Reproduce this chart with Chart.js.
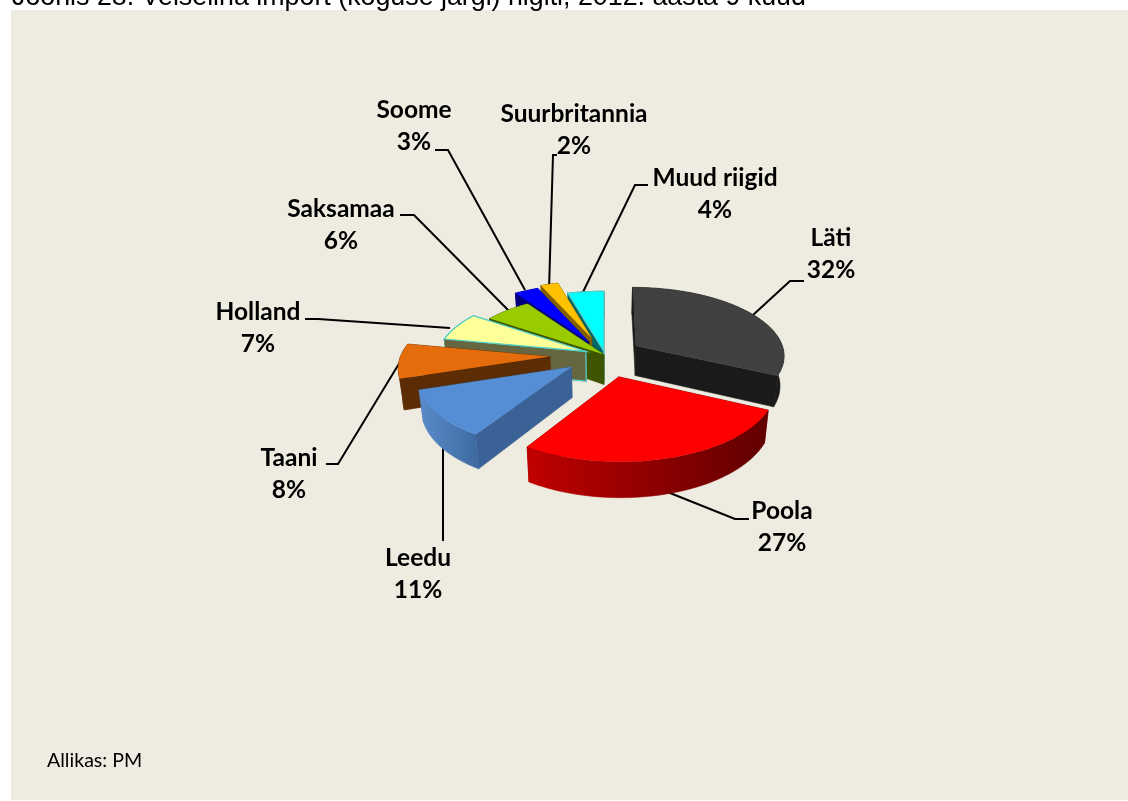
<!DOCTYPE html>
<html><head><meta charset="utf-8">
<script src="https://cdn.jsdelivr.net/npm/chart.js@4"></script>
<style>html,body{margin:0;padding:0;background:#fff}#w{position:absolute;left:0;top:0;width:1128px;height:801px}</style>
</head><body><div id="w"><canvas id="c" width="1128" height="801"></canvas></div>
<script>
const titleText = "Joonis 28. Veiseliha import (koguse järgi) riigiti, 2012. aasta 9 kuud";
const sourceText = "Allikas: PM";
const categories = ["Läti","Poola","Leedu","Taani","Holland","Saksamaa","Soome","Suurbritannia","Muud riigid"];
const shares = [32,27,11,8,6.6,5.8,3,2.2,4.4];
const explodePercent = [25,32,28,37,14,1,23,27,6];
const topColors  = ["#404040","#ff0000","#558ed5","#e46c0a","#ffff99","#99cc00","#0000ff","#ffc000","#00ffff"];
const wallColors = ["#1a1a1a","#7f0000","#3b6296","#5c2c04","#666640","#3f5400","#000080","#806000","#006666"];
const rimLeft    = ["#1a1a1a","#c00000","#5a8ccb","#5c2c04","#666640","#3f5400","#000080","#806000","#006666"];
const rimRight   = ["#1a1a1a","#600000","#3f6ba3","#5c2c04","#666640","#3f5400","#000080","#806000","#006666"];
const outlines   = [null,null,null,null,"#4fd0c8",null,null,null,"#4fd0c8"];
const drawOrder  = [8,7,6,5,4,3,2,0,1];
const labelCentres = [[831,237],[782,510],[418,557],[289,457],[258,311],[341,208],[414,109],[574,113],[715,177]];
const leaderPaths = [
 [[753,315],[790,281],[804,281]],
 [[660,489],[735,519],[749,519]],
 [[443,445],[443,541]],
 [[400,362],[338,464],[326,464]],
 [[450,328],[318,319],[305,319]],
 [[512,314],[414,215],[400,215]],
 [[525,290],[448,150],[435,150]],
 [[549,290],[553,155],[557,155]],
 [[583,292],[635,185],[648,185]]
];
const VIEW = {cx:605, cy:355, sx:149, sy:68.2, persp:0.126, depth:30, nadir:0.023};

function project(u,v,low){
  const d = 1/(1-VIEW.persp*v);
  const x = VIEW.cx+VIEW.sx*u*d, y = VIEW.cy+VIEW.sy*v*d;
  return low ? [x+(VIEW.cx-x)*VIEW.nadir, y+VIEW.depth*d] : [x,y];
}
function poly(ctx,pts){
  ctx.beginPath();
  pts.forEach((p,i)=> i?ctx.lineTo(p[0],p[1]):ctx.moveTo(p[0],p[1]));
  ctx.closePath();
}
function drawSlice(ctx,arc,i){
  const {startAngle,endAngle} = arc.getProps(['startAngle','endAngle'],true);
  const mid=(startAngle+endAngle)/2, off=arc.options.offset/100;
  const ou=Math.cos(mid)*off, ov=Math.sin(mid)*off;
  const rim=[], n=Math.max(6,Math.ceil((endAngle-startAngle)*40));
  for(let k=0;k<=n;k++){const a=startAngle+(endAngle-startAngle)*k/n; rim.push([ou+Math.cos(a),ov+Math.sin(a)]);}
  const top=rim.map(p=>project(p[0],p[1],false)), low=rim.map(p=>project(p[0],p[1],true));
  const t0=project(ou,ov,false), t1=project(ou,ov,true);
  const o=outlines[i];
  // radial walls
  ctx.fillStyle=wallColors[i]; ctx.strokeStyle=wallColors[i]; ctx.lineWidth=0.6;
  poly(ctx,[t0,t1,low[n],top[n]]); ctx.fill(); ctx.stroke();
  poly(ctx,[t0,t1,low[0],top[0]]); ctx.fill(); ctx.stroke();
  if(o){ctx.strokeStyle=o;ctx.lineWidth=1.2;ctx.stroke();}
  // outer rim
  const xs=top.map(p=>p[0]), g=ctx.createLinearGradient(Math.min(...xs),0,Math.max(...xs),0);
  g.addColorStop(0,rimLeft[i]); g.addColorStop(1,rimRight[i]);
  ctx.fillStyle=g; ctx.strokeStyle=g; ctx.lineWidth=0.6;
  poly(ctx,top.concat(low.slice().reverse())); ctx.fill(); ctx.stroke();
  // top face
  ctx.fillStyle=topColors[i];
  poly(ctx,[t0].concat(top)); ctx.fill();
  if(o){ctx.strokeStyle=o;ctx.lineWidth=1.2;ctx.stroke();}
}
const scene = {
  id:'scene',
  beforeDraw(chart){
    const ctx=chart.ctx; ctx.save();
    ctx.fillStyle='#fff'; ctx.fillRect(0,0,1128,801);
    ctx.fillStyle='#eeebe0'; ctx.fillRect(11,10,1117,790);
    ctx.fillStyle='#000'; ctx.font='26.8px "Liberation Sans"'; ctx.textBaseline='alphabetic'; ctx.textAlign='left';
    ctx.fillText(titleText,12,4.5);
    ctx.font='19.6px Lato'; ctx.fillText(sourceText,47,767);
    ctx.restore();
  },
  beforeDatasetsDraw(chart){
    const ctx=chart.ctx, arcs=chart.getDatasetMeta(0).data;
    ctx.save();
    ctx.strokeStyle='#000'; ctx.lineWidth=2; ctx.lineJoin='miter';
    leaderPaths.forEach(p=>{ctx.beginPath();p.forEach((q,i)=>i?ctx.lineTo(q[0],q[1]):ctx.moveTo(q[0],q[1]));ctx.stroke();});
    drawOrder.forEach(i=>drawSlice(ctx,arcs[i],i));
    ctx.fillStyle='#000'; ctx.font='bold 24.5px Lato'; ctx.textAlign='center'; ctx.textBaseline='middle';
    categories.forEach((c,i)=>{
      const [x,y]=labelCentres[i];
      ctx.fillText(c,x,y+1); ctx.fillText(Math.round(shares[i])+'%',x,y+33);
    });
    ctx.restore();
    return false;
  }
};
new Chart(document.getElementById('c'),{
  type:'pie',
  data:{labels:categories,datasets:[{data:shares,backgroundColor:topColors,offset:explodePercent,borderWidth:0}]},
  options:{responsive:false,animation:false,rotation:0,
    plugins:{legend:{display:false},tooltip:{enabled:false}}},
  plugins:[scene]
});
</script></body></html>
